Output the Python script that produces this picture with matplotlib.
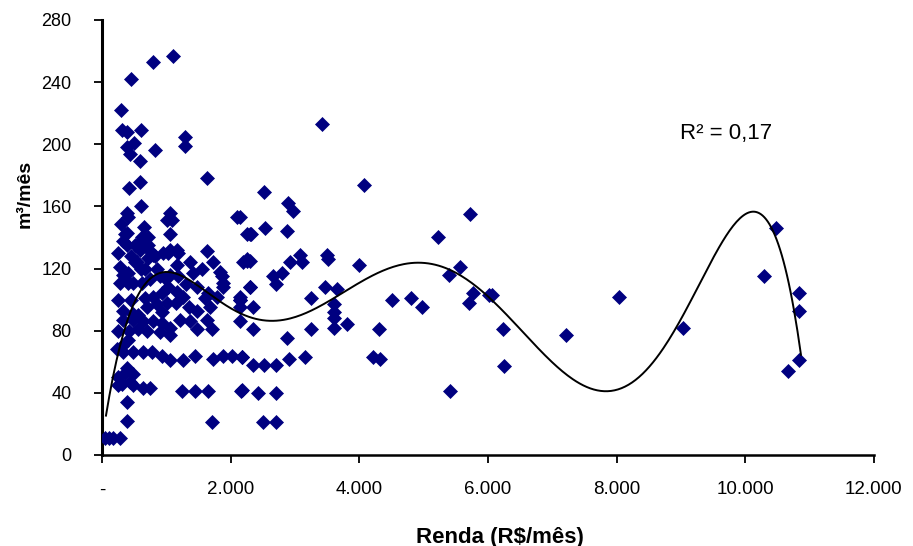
import numpy as np
import matplotlib
matplotlib.use("Agg")
import matplotlib.pyplot as plt
from matplotlib.ticker import FuncFormatter

# ---- data ----
renda = [
    1110, 793, 451, 295, 311, 389, 606, 389, 497, 435, 824, 591, 591, 420, 606, 389, 1057,
    1290, 1290, 1632, 2098, 295, 653, 1010, 389, 622, 715, 1057, 2254,
    326, 389, 591, 715, 793, 544, 591, 1026, 1181, 1632, 1725, 1834, 1881, 1368, 1415, 2192,
    280, 326, 357, 482, 622, 746, 901, 1057, 1181,
    1026, 1166, 1259, 1477, 1601, 1648, 1788, 1881,
    668, 793, 933,
    326, 700, 855, 1010, 1477, 1679, 2145,
    326, 482, 637, 793, 933, 1057, 1212, 1368, 1477, 1632, 1710,
    901, 1057,
    311, 404,
    326, 482, 637, 777, 933, 1057, 1259, 1446, 1725, 1881, 2021, 2176,
    357, 482,
    311, 482, 637, 746, 435,
    1243, 1446, 1648, 2160,
    389, 389, 1710,
    47, 110, 171, 280,
    1088, 2300, 2254, 1166, 1166, 1865, 2300, 2145,
    404, 357, 513, 746, 824, 404, 513, 668, 979, 1057, 280, 404, 715,
    480, 560, 930, 250, 420, 560, 700, 233, 249, 389, 249,
    250, 250, 450, 450, 600, 850, 950, 1150, 1300, 1350, 1550,
    3420, 4073, 2518, 2891, 2969, 5721, 2534, 2876, 2316, 5223, 2145, 2254, 2300, 2658, 2798,
    2705, 2922, 3078, 3109, 3498, 3513, 3995, 2300, 2145, 2145, 2347, 3249, 3467, 3653, 3606,
    3606, 3606, 3606, 3808, 4508, 4803, 4974, 5565, 5394, 5767, 5705, 6016, 2145, 2347, 2876,
    3249, 4306, 2176, 2347, 2518, 2705, 2907, 3156, 4213, 4322, 2176, 2425, 2705, 5410, 2503, 2705,
    6063, 6234, 6249, 7213, 8037, 9032, 10477, 10291, 10835, 10835, 10835, 10664,
]
consumo = [
    257, 253, 242, 222, 209, 208, 209, 198, 201, 194, 196, 189, 176, 172, 160, 156, 156,
    205, 199, 178, 153, 149, 147, 151, 143, 140, 140, 142, 142,
    138, 135, 137, 135, 129, 124, 132, 130, 130, 131, 124, 118, 111, 124, 117, 124,
    121, 116, 113, 111, 111, 113, 115, 116, 115,
    108, 105, 102, 108, 101, 104, 102, 108,
    101, 102, 104,
    93, 95, 97, 98, 93, 95, 100,
    87, 87, 86, 86, 85, 82, 87, 86, 81, 87, 81,
    79, 77,
    70, 74,
    66, 66, 66, 66, 64, 61, 61, 64, 62, 64, 64, 63,
    53, 52,
    46, 45, 43, 43, 47,
    41, 41, 41, 41,
    34, 22, 21,
    11, 11, 11, 11,
    151, 142, 126, 132, 122, 115, 108, 102,
    153, 142, 135, 131, 128, 117, 124, 120, 114, 132, 111, 111, 127,
    91, 90, 92, 80, 80, 81, 80, 68, 45, 56, 50,
    100, 130, 100, 128, 120, 120, 130, 98, 110, 95, 120,
    213, 174, 169, 162, 157, 155, 146, 144, 142, 140, 153, 125, 125, 115, 117,
    110, 124, 129, 124, 129, 126, 122, 108, 100, 95, 95, 101, 108, 107, 97,
    92, 88, 82, 84, 100, 101, 95, 121, 116, 104, 98, 103, 86, 81, 75,
    81, 81, 63, 58, 58, 58, 62, 63, 63, 62, 42, 40, 40, 41, 21, 21,
    103, 81, 57, 77, 102, 82, 146, 115, 104, 93, 61, 54,
]

# trend line (6th-order polynomial)
trend_x = [62, 171, 311, 466, 591, 746, 1026, 1212, 1415, 1725, 1990, 2300, 2612, 2922,
           3435, 3855, 4321, 4710, 5130, 5721, 6063, 6653, 7120, 7431, 7788, 8099, 8410,
           8674, 8985, 9187, 9498, 9716, 9964, 10120, 10275, 10462, 10617, 10741, 10866]
trend_y = [24, 53, 74, 93, 106, 114, 117, 116, 111, 103, 95, 89, 85, 87,
           97, 108, 118, 123, 123, 111, 101, 74, 55, 45, 40, 43, 53,
           66, 87, 104, 127, 140, 154, 156, 153, 143, 121, 95, 66]

x_ticks = [0, 2000, 4000, 6000, 8000, 10000, 12000]
y_ticks = [0, 40, 80, 120, 160, 200, 240, 280]
r2_label = "R² = 0,17"

x = np.array(renda, dtype=float)
y = np.array(consumo, dtype=float)

fig = plt.figure(figsize=(9.13, 5.46), dpi=100)
ax = fig.add_axes([0.1117, 0.1667, 0.8455, 0.7967])

ax.plot(x, y, linestyle="none", marker="D", markersize=7.2,
        markerfacecolor="#000080", markeredgecolor="#000080", markeredgewidth=0.5, zorder=3)

poly = np.polynomial.Polynomial.fit(trend_x, trend_y, 6)
xs = np.linspace(min(trend_x), max(trend_x), 400)
ax.plot(xs, poly(xs), color="black", linewidth=1.4, zorder=4)

ax.set_xlim(0, 12000)
ax.set_ylim(0, 280)
ax.set_xticks(x_ticks)
ax.set_yticks(y_ticks)

def fmt_x(v, pos):
    if v == 0:
        return "-"
    return f"{int(v):,}".replace(",", ".")

ax.xaxis.set_major_formatter(FuncFormatter(fmt_x))

fam = ["Liberation Sans", "DejaVu Sans"]
for s in ["top", "right"]:
    ax.spines[s].set_visible(False)
ax.spines["left"].set_linewidth(2.2)
ax.spines["bottom"].set_linewidth(1.8)
ax.tick_params(axis="y", direction="out", length=6, width=1.3, pad=16, labelsize=13)
ax.tick_params(axis="x", direction="out", length=6, width=1.3, pad=13, labelsize=13.5)
for lab in ax.get_yticklabels() + ax.get_xticklabels():
    lab.set_family(fam)

ax.set_xlabel("Renda (R$/mês)", fontsize=16, fontweight="bold", family=fam)
ax.xaxis.set_label_coords(0.515, -0.165)
ax.set_ylabel("m³/mês", fontsize=14, fontweight="bold", family=fam)
ax.yaxis.set_label_coords(-0.088, 0.6)

ax.text(0.749, 0.74, r2_label, transform=ax.transAxes, fontsize=16,
        family=fam, va="center", ha="left")

fig.savefig("out.png", dpi=100)
